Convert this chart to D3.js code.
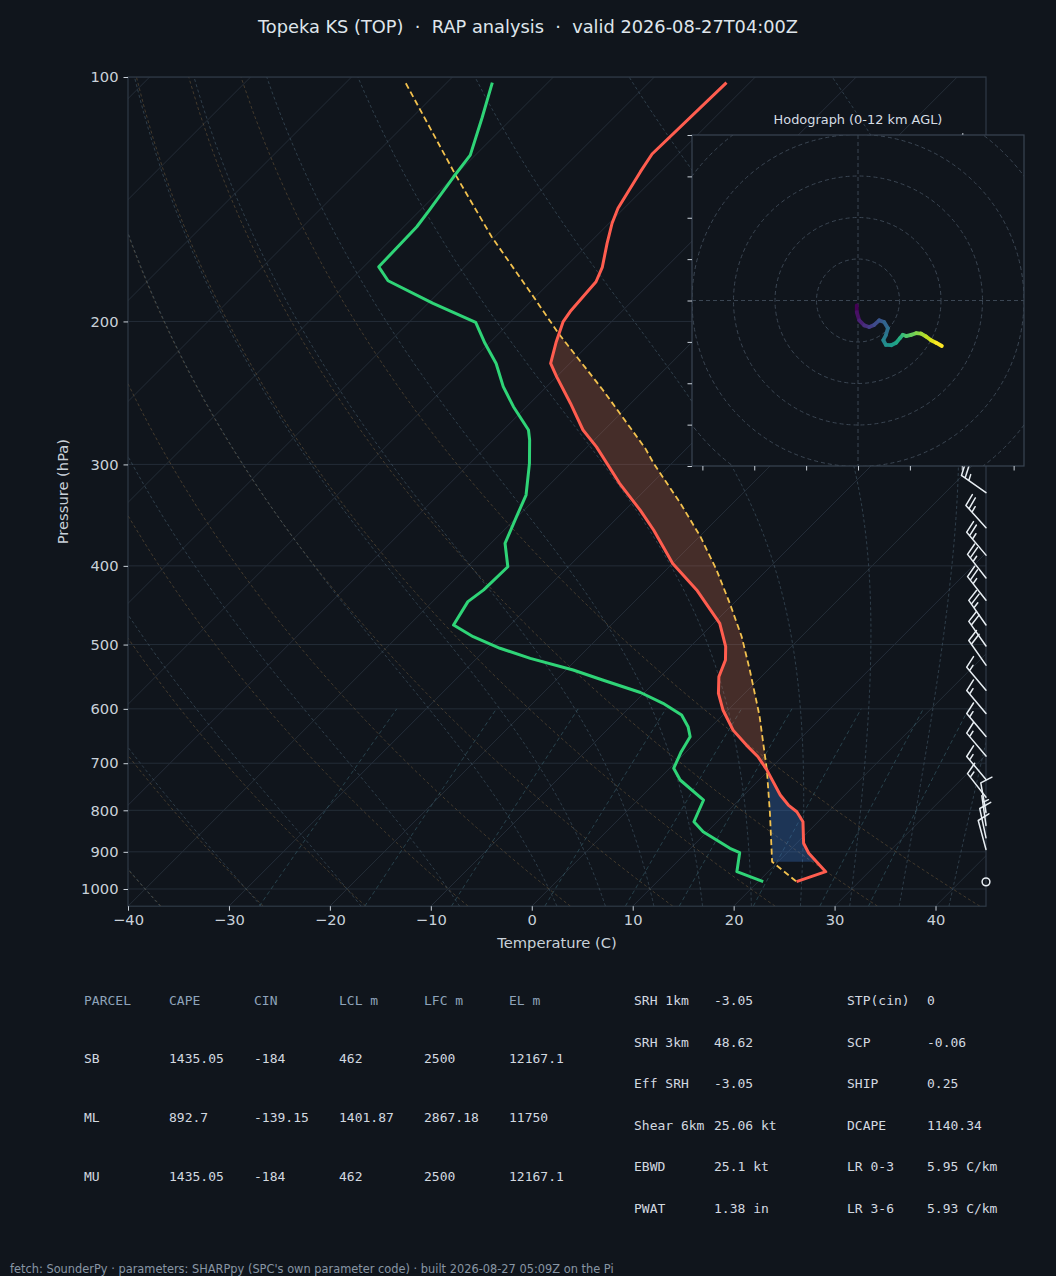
<!DOCTYPE html>
<html>
<head>
<meta charset="utf-8">
<title>Topeka KS sounding</title>
<script src="https://cdn.jsdelivr.net/npm/d3@7/dist/d3.min.js"></script>
<style>
 body { margin: 0; background: #10151c; }
 svg { display: block; }
</style>
</head>
<body>
<svg id="skewt" width="1056" height="1276"></svg>
<script>
/* Skew-T log-P diagram for the RAP analysis sounding at Topeka, with a
 * hodograph inset, wind barbs and the SHARPpy parameter tables below. */

// ---- sounding profiles (hPa, deg C) ----
var tempP = [101.6, 124.4, 130.8, 145.1, 151.4, 160.3, 171.6, 178.7, 186.5, 194.5, 200.1, 211.8,
 225.3, 233.9, 252.2, 272.1, 285.4, 316.5, 341.5, 361.3, 397.2, 428.2, 470.8, 503.0, 522.4,
 547.7, 574.1, 601.9, 637.3, 664.9, 687.3, 712.3, 766.0, 788.2, 803.3, 826.4, 878.5, 903.7,
 952.1, 979.5];
var tempT = [-62.3, -62.6, -62.0, -60.6, -59.7, -58.2, -56.3, -55.5, -55.3, -55.1, -54.8, -53.5,
 -51.9, -50.0, -46.0, -42.1, -39.1, -33.2, -28.5, -25.2, -20.0, -15.0, -9.4, -6.5, -5.2,
 -4.2, -2.6, -0.5, 2.5, 5.3, 7.6, 9.7, 13.6, 15.4, 16.9, 18.5, 20.7, 22.2,
 25.7, 23.8];

var dewP = [101.6, 112.4, 124.8, 132.7, 145.8, 152.9, 171.3, 178.2, 190.0, 200.5, 212.8, 225.3,
 240.6, 254.7, 272.1, 279.9, 299.1, 327.2, 347.9, 375.2, 401.0, 428.2, 442.7, 473.1, 489.0,
 505.3, 519.9, 537.4, 552.8, 572.8, 590.6, 610.5, 631.1, 649.3, 677.5, 710.2, 734.1, 777.0,
 826.4, 850.1, 891.1, 902.3, 952.1, 979.5];
var dewT = [-85.5, -83.0, -80.5, -80.0, -79.1, -78.7, -78.5, -76.2, -69.5, -63.4, -60.4, -57.3,
 -54.3, -51.3, -47.5, -46.4, -44.1, -41.3, -40.1, -38.6, -36.0, -36.1, -36.5, -35.6, -32.5,
 -28.7, -24.7, -19.3, -15.4, -10.4, -7.1, -4.1, -2.3, -1.1, -0.5, 0.4, 2.2, 6.5,
 7.7, 9.6, 13.9, 15.3, 16.9, 20.5];

var parcelP = [101.8, 132.0, 157.3, 186.5, 206.9, 242.9, 286.7, 299.1, 334.9, 368.2, 404.7,
 444.7, 489.0, 537.4, 601.9, 613.5, 713.6, 807.0, 925.5, 979.5];
var parcelT = [-94.0, -80.0, -70.3, -60.2, -54.1, -44.1, -34.1, -31.8, -25.2, -19.9, -15.0,
 -10.4, -5.9, -1.8, 3.0, 3.8, 9.8, 14.4, 19.4, 23.8];

// parcel levels bounding the shaded CIN / CAPE areas (hPa)
var lclP = 925.5;
var lfcP = 713.3;
var elP = 207.0;

// ---- wind barbs along the right edge (hPa, kt, deg) ----
var barbP = [127, 150, 175, 200, 225, 250, 275, 300, 325, 359, 388, 414, 441, 473, 502, 530,
 569, 608, 649, 686, 733, 771, 805, 835, 865, 894, 980];
var barbSpd = [25, 25, 25, 25, 25, 25, 25, 25, 25, 25, 25, 25, 25, 25, 20, 20,
 15, 15, 15, 15, 15, 15, 10, 5, 10, 10, 0];
var barbDir = [300, 300, 300, 300, 302, 305, 305, 305, 305, 318, 320, 322, 322, 325, 325, 325,
 320, 320, 320, 320, 320, 322, 350, 352, 348, 345, 0];

// ---- hodograph trace 0-12 km (kt) ----
var hodoU = [-0.3, -0.3, 0.3, 1.5, 2.7, 3.9, 5.1, 6.3, 7.2, 6.7, 6.1, 6.7, 8.0, 9.2, 10.1, 10.8,
 11.6, 12.8, 14.0, 15.2, 16.4, 17.6, 18.8, 20.2];
var hodoV = [-1.2, -2.8, -4.8, -6.0, -6.4, -5.9, -4.8, -5.2, -6.7, -8.4, -9.6, -10.7, -10.8, -10.2,
 -9.1, -8.3, -8.6, -8.3, -7.9, -8.0, -8.7, -9.6, -10.2, -11.0];
var hodoRings = [10, 20, 30, 40, 50];
var hodoXTicks = [-37.5, -25, -12.5, 0, 12.5, 25, 37.5];
var hodoYTicks = [-40, -30, -20, -10, 0, 10, 20, 30, 40];

// ---- axes ticks and background reference lines ----
var pressureTicks = [100, 200, 300, 400, 500, 600, 700, 800, 900, 1000];
var tempTicks = [-40, -30, -20, -10, 0, 10, 20, 30, 40];
var isothermT = [-130, -120, -110, -100, -90, -80, -70, -60, -50, -40, -30, -20, -10, 0, 10, 20, 30, 40];
var dryT0 = [-40, -30, -20, -10, 0, 10, 20, 30, 40];
var moistT0 = [-40, -30, -20, -10, 0, 5, 10, 15, 20, 25, 30, 35, 40, 45];
var mixRatios = [0.4, 1, 2, 4, 7, 10, 16, 24, 32];   // g/kg

// ---- parameter tables ----
var parcelHeader = ['PARCEL', 'CAPE', 'CIN', 'LCL m', 'LFC m', 'EL m'];
var parcelRows = [
 ['SB', '1435.05', '-184', '462', '2500', '12167.1'],
 ['ML', '892.7', '-139.15', '1401.87', '2867.18', '11750'],
 ['MU', '1435.05', '-184', '462', '2500', '12167.1']];
var kinNames = ['SRH 1km', 'SRH 3km', 'Eff SRH', 'Shear 6km', 'EBWD', 'PWAT'];
var kinValues = ['-3.05', '48.62', '-3.05', '25.06 kt', '25.1 kt', '1.38 in'];
var compNames = ['STP(cin)', 'SCP', 'SHIP', 'DCAPE', 'LR 0-3', 'LR 3-6'];
var compValues = ['0', '-0.06', '0.25', '1140.34', '5.95 C/km', '5.93 C/km'];

var titleText = 'Topeka KS (TOP)  \u00b7  RAP analysis  \u00b7  valid 2026-08-27T04:00Z';
var footerText = 'fetch: SounderPy \u00b7 parameters: SHARPpy (SPC\'s own parameter code) \u00b7 built 2026-08-27 05:09Z on the Pi';

// ---- graphic attributes ----
var graphicAtt = {
 bg: '#10151c',
 spine: '#2f3a47',
 grid: '#242d38',
 tickText: '#c9d1d9',
 font: 'DejaVu Sans, sans-serif',
 mono: 'DejaVu Sans Mono, monospace',
 plotLeft: 128, plotRight: 986, plotTop: 77, plotBottom: 906.2,
 skew: 1.0,          // tan(45 deg), skew applied in pixels
 barbLen: 30,
 hodoLeft: 692, hodoRight: 1024, hodoTop: 135, hodoBottom: 466
};

var svg = d3.select('#skewt');
svg.append('rect').attr('width', 1056).attr('height', 1276).style('fill', graphicAtt.bg);

var yScale = d3.scaleLog().domain([1050, 100]).range([graphicAtt.plotBottom, graphicAtt.plotTop]);
var xScale = d3.scaleLinear().domain([-40, 45]).range([graphicAtt.plotLeft, graphicAtt.plotRight]);

// skewed x position of temperature t at pressure p
function skewX(t, p)
{
 return xScale(t) + (graphicAtt.plotBottom - yScale(p)) * graphicAtt.skew;
}

var profileLine = d3.line()
 .x(function(d) { return skewX(d[1], d[0]); })
 .y(function(d) { return yScale(d[0]); });

// ---- thermodynamics for the reference lines ----
var Rd = 287.04749, Cpd = 1004.6662, Lv = 2.50084e6, eps = 0.62196;
var kappa = Rd / Cpd;

function satVapor(tc)
{
 return 6.112 * Math.exp(17.67 * tc / (tc + 243.5));
}

function moistLapse(p, tK)
{
 var es = satVapor(tK - 273.15);
 var rs = eps * es / (p - es);
 return (Rd * tK + Lv * rs) / (Cpd + (Lv * Lv * rs * eps) / (Rd * tK * tK)) / p;
}

/* integrates a pseudo-adiabat from 1000 hPa both ways with RK4
 - t0 : temperature (C) at 1000 hPa
 returns array of [p, tC] from 1050 to 100 hPa */
function moistAdiabat(t0)
{
 function run(dp, pEnd)
 {
  var pts = [];
  var p = 1000, t = t0 + 273.15;
  while ((dp < 0 && p > pEnd) || (dp > 0 && p < pEnd))
  {
   var k1 = moistLapse(p, t);
   var k2 = moistLapse(p + dp / 2, t + dp / 2 * k1);
   var k3 = moistLapse(p + dp / 2, t + dp / 2 * k2);
   var k4 = moistLapse(p + dp, t + dp * k3);
   t += dp / 6 * (k1 + 2 * k2 + 2 * k3 + k4);
   p += dp;
   pts.push([p, t - 273.15]);
  }
  return pts;
 }
 var down = run(5, 1050).reverse();
 return down.concat([[1000, t0]], run(-5, 100));
}

function dryAdiabat(t0)
{
 var pts = [];
 for (var p = 1050; p >= 100; p -= 10)
 {
  pts.push([p, (t0 + 273.15) * Math.pow(p / 1000, kappa) - 273.15]);
 }
 return pts;
}

function mixingLine(w)
{
 var pts = [];
 for (var p = 1050; p >= 600; p -= 10)
 {
  var e = (w / 1000) * p / (eps + w / 1000);
  var l = Math.log(e / 6.112);
  pts.push([p, 243.5 * l / (17.67 - l)]);
 }
 return pts;
}

// linear interpolation in log-p along a profile ordered top -> surface
function interpProfile(pArr, tArr, p)
{
 for (var i = 0; i < pArr.length - 1; i++)
 {
  if (p >= pArr[i] && p <= pArr[i + 1])
  {
   var f = Math.log(p / pArr[i]) / Math.log(pArr[i + 1] / pArr[i]);
   return tArr[i] + f * (tArr[i + 1] - tArr[i]);
  }
 }
 return p < pArr[0] ? tArr[0] : tArr[tArr.length - 1];
}

// ---- clip for the skew-T plotting area ----
svg.append('clipPath').attr('id', 'plotClip')
 .append('rect')
 .attr('x', graphicAtt.plotLeft).attr('y', graphicAtt.plotTop)
 .attr('width', graphicAtt.plotRight - graphicAtt.plotLeft)
 .attr('height', graphicAtt.plotBottom - graphicAtt.plotTop);

var backLayer = svg.append('g').attr('clip-path', 'url(#plotClip)');

// isobars
backLayer.selectAll('.isobar').data(pressureTicks).enter().append('line')
 .attr('class', 'isobar')
 .attr('x1', graphicAtt.plotLeft).attr('x2', graphicAtt.plotRight)
 .attr('y1', function(d) { return yScale(d); }).attr('y2', function(d) { return yScale(d); })
 .style('stroke', graphicAtt.grid).style('stroke-width', '1px');

// isotherms
backLayer.selectAll('.isotherm').data(isothermT).enter().append('line')
 .attr('class', 'isotherm')
 .attr('x1', function(d) { return skewX(d, 1050); }).attr('y1', yScale(1050))
 .attr('x2', function(d) { return skewX(d, 100); }).attr('y2', yScale(100))
 .style('stroke', graphicAtt.grid).style('stroke-width', '1px');

// dry adiabats
backLayer.selectAll('.dry').data(dryT0).enter().append('path')
 .attr('class', 'dry')
 .attr('d', function(d) { return profileLine(dryAdiabat(d)); })
 .style('fill', 'none').style('stroke', '#7a6240').style('stroke-opacity', 0.55)
 .style('stroke-width', '0.9px').style('stroke-dasharray', '3,2.5');

// moist adiabats
backLayer.selectAll('.moist').data(moistT0).enter().append('path')
 .attr('class', 'moist')
 .attr('d', function(d) { return profileLine(moistAdiabat(d)); })
 .style('fill', 'none').style('stroke', '#4a6274').style('stroke-opacity', 0.6)
 .style('stroke-width', '0.9px').style('stroke-dasharray', '3,2.5');

// mixing ratio lines
backLayer.selectAll('.mixing').data(mixRatios).enter().append('path')
 .attr('class', 'mixing')
 .attr('d', function(d) { return profileLine(mixingLine(d)); })
 .style('fill', 'none').style('stroke', '#3d6a78').style('stroke-opacity', 0.6)
 .style('stroke-width', '0.9px').style('stroke-dasharray', '4,3');

// ---- CIN and CAPE shading between parcel and environment ----
function shadeBetween(pTop, pBot, colour, opacity)
{
 var levels = [pTop, pBot];
 tempP.concat(parcelP).forEach(function(p) { if (p > pTop && p < pBot) levels.push(p); });
 levels.sort(d3.ascending);
 var area = d3.area()
  .y(function(p) { return yScale(p); })
  .x0(function(p) { return skewX(interpProfile(tempP, tempT, p), p); })
  .x1(function(p) { return skewX(interpProfile(parcelP, parcelT, p), p); });
 backLayer.append('path').attr('d', area(levels))
  .style('fill', colour).style('fill-opacity', opacity);
}
shadeBetween(lfcP, lclP, '#3a78d0', 0.32);
shadeBetween(elP, lfcP, '#d8704f', 0.27);

// ---- profiles ----
var profLayer = svg.append('g').attr('clip-path', 'url(#plotClip)');
profLayer.append('path').attr('d', profileLine(d3.zip(parcelP, parcelT)))
 .style('fill', 'none').style('stroke', '#f2c14e').style('stroke-width', '1.8px')
 .style('stroke-dasharray', '6,3.5');
profLayer.append('path').attr('d', profileLine(d3.zip(dewP, dewT)))
 .style('fill', 'none').style('stroke', '#2fd477').style('stroke-width', '3px')
 .style('stroke-linejoin', 'round');
profLayer.append('path').attr('d', profileLine(d3.zip(tempP, tempT)))
 .style('fill', 'none').style('stroke', '#ff5d4f').style('stroke-width', '3px')
 .style('stroke-linejoin', 'round');

// ---- frame and axes ----
svg.append('rect')
 .attr('x', graphicAtt.plotLeft).attr('y', graphicAtt.plotTop)
 .attr('width', graphicAtt.plotRight - graphicAtt.plotLeft)
 .attr('height', graphicAtt.plotBottom - graphicAtt.plotTop)
 .style('fill', 'none').style('stroke', graphicAtt.spine).style('stroke-width', '1.2px');

var yAxis = d3.axisLeft(yScale).tickValues(pressureTicks).tickFormat(d3.format('d'))
 .tickSize(4.5).tickPadding(5);
var gy = svg.append('g').attr('transform', 'translate(' + graphicAtt.plotLeft + ',0)').call(yAxis);

var xAxis = d3.axisBottom(xScale).tickValues(tempTicks)
 .tickFormat(function(d) { return d < 0 ? '\u2212' + Math.abs(d) : d; })
 .tickSize(4.5).tickPadding(4);
var gx = svg.append('g').attr('transform', 'translate(0,' + graphicAtt.plotBottom + ')').call(xAxis);

[gx, gy].forEach(function(g)
{
 g.select('.domain').remove();
 g.selectAll('.tick line').style('stroke', graphicAtt.tickText).style('stroke-width', '1px');
 g.selectAll('.tick text').style('fill', graphicAtt.tickText)
  .style('font-family', graphicAtt.font).style('font-size', '14.7px');
});

svg.append('text')
 .attr('x', (graphicAtt.plotLeft + graphicAtt.plotRight) / 2).attr('y', 948)
 .attr('text-anchor', 'middle')
 .style('fill', graphicAtt.tickText).style('font-family', graphicAtt.font).style('font-size', '14.7px')
 .text('Temperature (C)');

svg.append('text')
 .attr('transform', 'translate(68,' + ((graphicAtt.plotTop + graphicAtt.plotBottom) / 2) + ') rotate(-90)')
 .attr('text-anchor', 'middle')
 .style('fill', graphicAtt.tickText).style('font-family', graphicAtt.font).style('font-size', '14.7px')
 .text('Pressure (hPa)');

svg.append('text')
 .attr('x', 528).attr('y', 33)
 .attr('text-anchor', 'middle')
 .style('white-space', 'pre')
 .style('fill', '#dfe5eb').style('font-family', graphicAtt.font).style('font-size', '17.8px')
 .text(titleText);

// ---- wind barbs ----
/* draws one barb with matplotlib proportions
 - x0, y0 : base of the staff
 - speed : kt, direction : degrees the wind blows from
 - len : staff length in px */
function drawBarb(layer, x0, y0, speed, direction, len)
{
 var stroke = '#e8eef3';
 if (speed < 2.5)
 {
  layer.append('circle').attr('cx', x0).attr('cy', y0).attr('r', len * 0.13)
   .style('fill', 'none').style('stroke', stroke).style('stroke-width', '1.5px');
  return;
 }
 var rad = direction * Math.PI / 180;
 var ux = Math.sin(rad), uy = -Math.cos(rad);   // along staff, towards wind origin
 var nx = -uy, ny = ux;                         // feathers, clockwise side
 var path = d3.path();
 path.moveTo(x0, y0);
 path.lineTo(x0 + ux * len, y0 + uy * len);

 var spd5 = Math.round(speed / 5) * 5;
 var nFull = Math.floor(spd5 / 10);
 var nHalf = (spd5 - nFull * 10) >= 5 ? 1 : 0;
 var spacing = 0.15 * len, h = 0.4 * len, w = 0.25 * len;
 var s = len;
 for (var i = 0; i < nFull; i++)
 {
  path.moveTo(x0 + ux * s, y0 + uy * s);
  path.lineTo(x0 + ux * (s + w / 2) + nx * h, y0 + uy * (s + w / 2) + ny * h);
  s -= spacing;
 }
 if (nHalf)
 {
  if (nFull == 0) { s -= 1.5 * spacing; }
  path.moveTo(x0 + ux * s, y0 + uy * s);
  path.lineTo(x0 + ux * (s + w / 4) + nx * h / 2, y0 + uy * (s + w / 4) + ny * h / 2);
 }
 layer.append('path').attr('d', path.toString())
  .style('fill', 'none').style('stroke', stroke).style('stroke-width', '1.5px')
  .style('stroke-linecap', 'round');
}

var barbLayer = svg.append('g');
for (var b = 0; b < barbP.length; b++)
{
 drawBarb(barbLayer, graphicAtt.plotRight, yScale(barbP[b]), barbSpd[b], barbDir[b], graphicAtt.barbLen);
}

// ---- hodograph inset ----
var hx = d3.scaleLinear().domain([-40, 40]).range([graphicAtt.hodoLeft, graphicAtt.hodoRight]);
var hy = d3.scaleLinear().domain([-40, 40]).range([graphicAtt.hodoBottom, graphicAtt.hodoTop]);
var hodo = svg.append('g').attr('class', 'hodograph');

hodo.append('clipPath').attr('id', 'hodoClip').append('rect')
 .attr('x', graphicAtt.hodoLeft).attr('y', graphicAtt.hodoTop)
 .attr('width', graphicAtt.hodoRight - graphicAtt.hodoLeft)
 .attr('height', graphicAtt.hodoBottom - graphicAtt.hodoTop);

hodo.append('rect')
 .attr('x', graphicAtt.hodoLeft).attr('y', graphicAtt.hodoTop)
 .attr('width', graphicAtt.hodoRight - graphicAtt.hodoLeft)
 .attr('height', graphicAtt.hodoBottom - graphicAtt.hodoTop)
 .style('fill', graphicAtt.bg);

var hodoInner = hodo.append('g').attr('clip-path', 'url(#hodoClip)');
var ringStyle = function(sel)
{
 sel.style('fill', 'none').style('stroke', '#3b4653').style('stroke-width', '1px')
  .style('stroke-dasharray', '4,3');
};
hodoInner.selectAll('.ring').data(hodoRings).enter().append('circle')
 .attr('class', 'ring')
 .attr('cx', hx(0)).attr('cy', hy(0))
 .attr('r', function(d) { return hx(d) - hx(0); })
 .call(ringStyle);
hodoInner.append('line').attr('x1', graphicAtt.hodoLeft).attr('x2', graphicAtt.hodoRight)
 .attr('y1', hy(0)).attr('y2', hy(0)).call(ringStyle);
hodoInner.append('line').attr('y1', graphicAtt.hodoTop).attr('y2', graphicAtt.hodoBottom)
 .attr('x1', hx(0)).attr('x2', hx(0)).call(ringStyle);

// trace coloured by height (viridis)
var nHodo = hodoU.length;
for (var k = 0; k < nHodo - 1; k++)
{
 hodoInner.append('line')
  .attr('x1', hx(hodoU[k])).attr('y1', hy(hodoV[k]))
  .attr('x2', hx(hodoU[k + 1])).attr('y2', hy(hodoV[k + 1]))
  .style('stroke', d3.interpolateViridis(k / (nHodo - 2)))
  .style('stroke-width', '3.8px').style('stroke-linecap', 'round');
}

hodo.append('rect')
 .attr('x', graphicAtt.hodoLeft).attr('y', graphicAtt.hodoTop)
 .attr('width', graphicAtt.hodoRight - graphicAtt.hodoLeft)
 .attr('height', graphicAtt.hodoBottom - graphicAtt.hodoTop)
 .style('fill', 'none').style('stroke', '#3a4553').style('stroke-width', '1.2px');

var hAxisL = d3.axisLeft(hy).tickValues(hodoYTicks).tickFormat('').tickSize(4.5);
var hAxisB = d3.axisBottom(hx).tickValues(hodoXTicks).tickFormat('').tickSize(4.5);
var ghl = hodo.append('g').attr('transform', 'translate(' + graphicAtt.hodoLeft + ',0)').call(hAxisL);
var ghb = hodo.append('g').attr('transform', 'translate(0,' + graphicAtt.hodoBottom + ')').call(hAxisB);
[ghl, ghb].forEach(function(g)
{
 g.select('.domain').remove();
 g.selectAll('.tick line').style('stroke', graphicAtt.tickText).style('stroke-width', '1px');
});

hodo.append('text')
 .attr('x', hx(0)).attr('y', 124)
 .attr('text-anchor', 'middle')
 .style('fill', '#d6dde4').style('font-family', graphicAtt.font).style('font-size', '12.9px')
 .text('Hodograph (0-12 km AGL)');

// ---- parameter tables ----
var tableLayer = svg.append('g')
 .style('font-family', graphicAtt.mono).style('font-size', '13px');

var parcelColX = [84, 169, 254, 339, 424, 509];
tableLayer.selectAll('.phead').data(parcelHeader).enter().append('text')
 .attr('class', 'phead')
 .attr('x', function(d, i) { return parcelColX[i]; }).attr('y', 1005)
 .style('fill', '#8ea3ba').text(function(d) { return d; });

parcelRows.forEach(function(row, r)
{
 tableLayer.selectAll('.prow' + r).data(row).enter().append('text')
  .attr('class', 'prow' + r)
  .attr('x', function(d, i) { return parcelColX[i]; }).attr('y', 1063 + r * 59)
  .style('fill', '#d3d9e0').text(function(d) { return d; });
});

function paramColumn(names, values, xName, xValue)
{
 names.forEach(function(n, i)
 {
  var yRow = 1005 + i * 41.5;
  tableLayer.append('text').attr('x', xName).attr('y', yRow).style('fill', '#d3d9e0').text(n);
  tableLayer.append('text').attr('x', xValue).attr('y', yRow).style('fill', '#d3d9e0').text(values[i]);
 });
}
paramColumn(kinNames, kinValues, 634, 714);
paramColumn(compNames, compValues, 847, 927);

svg.append('text')
 .attr('x', 10).attr('y', 1273)
 .style('fill', '#8896a4').style('font-family', graphicAtt.font).style('font-size', '11.4px')
 .text(footerText);
</script>
</body>
</html>
